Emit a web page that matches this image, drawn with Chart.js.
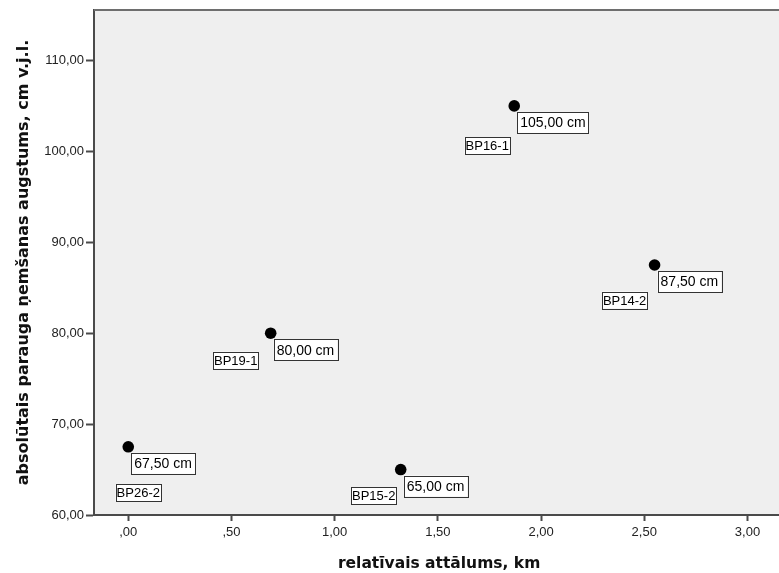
<!DOCTYPE html>
<html>
<head>
<meta charset="utf-8">
<script src="https://cdn.jsdelivr.net/npm/chart.js@4/dist/chart.umd.min.js"></script>
<style>
  html, body { margin: 0; padding: 0; background: #fff; overflow: hidden; }
  #wrap { width: 790px; height: 573px; }
</style>
</head>
<body>
<div id="wrap"><canvas id="c"></canvas></div>
<script>
// dati (nolasīti no attēla)
const paraugi = ['BP26-2', 'BP19-1', 'BP15-2', 'BP16-1', 'BP14-2'];
const attalums = [0, 0.69, 1.32, 1.87, 2.55];        // km
const augstums = [67.5, 80, 65, 105, 87.5];          // cm v.j.l.
const yTicks = [60, 70, 80, 90, 100, 110];
const xTicks = [0, 0.5, 1, 1.5, 2, 2.5, 3];

// nosaukuma etiķešu nobīde no punkta (centrs, px)
const nameOffsets = [[10, 46], [-35, 27], [-27, 26], [-27, 40], [-30, 35]];

function fmt(v) {
  return v.toFixed(2).replace('.', ',').replace(/^0,/, ',');
}

const plotBg = {
  id: 'plotBg',
  beforeDraw(chart) {
    const { ctx, chartArea: a } = chart;
    ctx.save();
    ctx.fillStyle = '#efefef';
    ctx.fillRect(a.left, a.top, a.right - a.left, a.bottom - a.top);
    ctx.restore();
  },
  afterDraw(chart) {
    const { ctx, chartArea: a } = chart;
    ctx.save();
    ctx.strokeStyle = '#6e6e6e';
    ctx.lineWidth = 2;
    ctx.beginPath();
    ctx.moveTo(a.left, a.top);
    ctx.lineTo(a.right, a.top);
    ctx.lineTo(a.right, a.bottom);
    ctx.stroke();
    ctx.restore();
  }
};

function box(ctx, text, x, y, padX, padY, font) {
  ctx.font = font;
  const w = ctx.measureText(text).width + padX * 2;
  const h = 13 + padY * 2;
  ctx.fillStyle = '#ffffff';
  ctx.fillRect(x, y, w, h);
  ctx.strokeStyle = '#333';
  ctx.lineWidth = 1;
  ctx.strokeRect(Math.round(x) + 0.5, Math.round(y) + 0.5, Math.round(w), Math.round(h));
  ctx.fillStyle = '#000';
  ctx.textBaseline = 'middle';
  ctx.textAlign = 'left';
  ctx.fillText(text, x + padX, y + h / 2 + 1);
  return w;
}

const pointLabels = {
  id: 'pointLabels',
  beforeDatasetsDraw(chart) {
    const { ctx } = chart;
    const xs = chart.scales.x, ys = chart.scales.y;
    ctx.save();
    paraugi.forEach((nm, i) => {
      const px = xs.getPixelForValue(attalums[i]);
      const py = ys.getPixelForValue(augstums[i]);
      // vērtības etiķete
      box(ctx, fmt(augstums[i]) + ' cm', px + 3, py + 6, 3, 4, '14px "Liberation Sans", Arial, sans-serif');
      // parauga nosaukums
      ctx.font = '13px "Liberation Sans", Arial, sans-serif';
      const w = ctx.measureText(nm).width + 2;
      const cx = px + nameOffsets[i][0], cy = py + nameOffsets[i][1];
      box(ctx, nm, cx - w / 2, cy - 8.5, 1, 2, '13px "Liberation Sans", Arial, sans-serif');
    });
    ctx.restore();
  }
};

new Chart(document.getElementById('c'), {
  type: 'scatter',
  data: {
    datasets: [{
      data: attalums.map((x, i) => ({ x: x, y: augstums[i] })),
      pointRadius: 5.8,
      pointHoverRadius: 5.8,
      pointBackgroundColor: '#000',
      pointBorderColor: '#000',
      pointBorderWidth: 0
    }]
  },
  options: {
    responsive: true,
    maintainAspectRatio: false,
    animation: false,
    events: [],
    layout: { padding: { top: 10, right: 0, bottom: 0, left: 0 } },
    plugins: { legend: { display: false }, tooltip: { enabled: false } },
    scales: {
      x: {
        type: 'linear',
        min: -0.166,
        max: 3.178,
        afterBuildTicks(s) { s.ticks = xTicks.map(v => ({ value: v })); },
        afterFit(s) { s.height = 58; },
        border: { display: true, color: '#4a4a4a', width: 2 },
        grid: { drawOnChartArea: false, drawTicks: true, tickLength: 6, tickColor: '#4a4a4a', tickWidth: 2 },
        ticks: {
          includeBounds: false,
          padding: 4,
          color: '#222',
          font: { family: '"Liberation Sans", Arial, sans-serif', size: 13 },
          callback: v => fmt(v)
        },
        title: {
          display: true,
          text: 'relatīvais attālums, km',
          color: '#111',
          font: { family: '"DejaVu Sans", Verdana, sans-serif', size: 15.5, weight: 'bold' },
          padding: { top: 0, bottom: 0 }
        }
      },
      y: {
        type: 'linear',
        min: 60,
        max: 115.55,
        afterBuildTicks(s) { s.ticks = yTicks.map(v => ({ value: v })); },
        afterFit(s) { s.width = 94; },
        border: { display: true, color: '#4a4a4a', width: 2 },
        grid: { drawOnChartArea: false, drawTicks: true, tickLength: 8, tickColor: '#4a4a4a', tickWidth: 2 },
        ticks: {
          includeBounds: false,
          padding: 2,
          color: '#222',
          font: { family: '"Liberation Sans", Arial, sans-serif', size: 13 },
          callback: v => fmt(v)
        },
        title: {
          display: true,
          text: 'absolūtais parauga ņemšanas augstums, cm v.j.l.',
          color: '#111',
          font: { family: '"DejaVu Sans", Verdana, sans-serif', size: 16, weight: 'bold' },
          padding: { top: 14, bottom: 0 }
        }
      }
    }
  },
  plugins: [plotBg, pointLabels]
});
</script>
</body>
</html>
